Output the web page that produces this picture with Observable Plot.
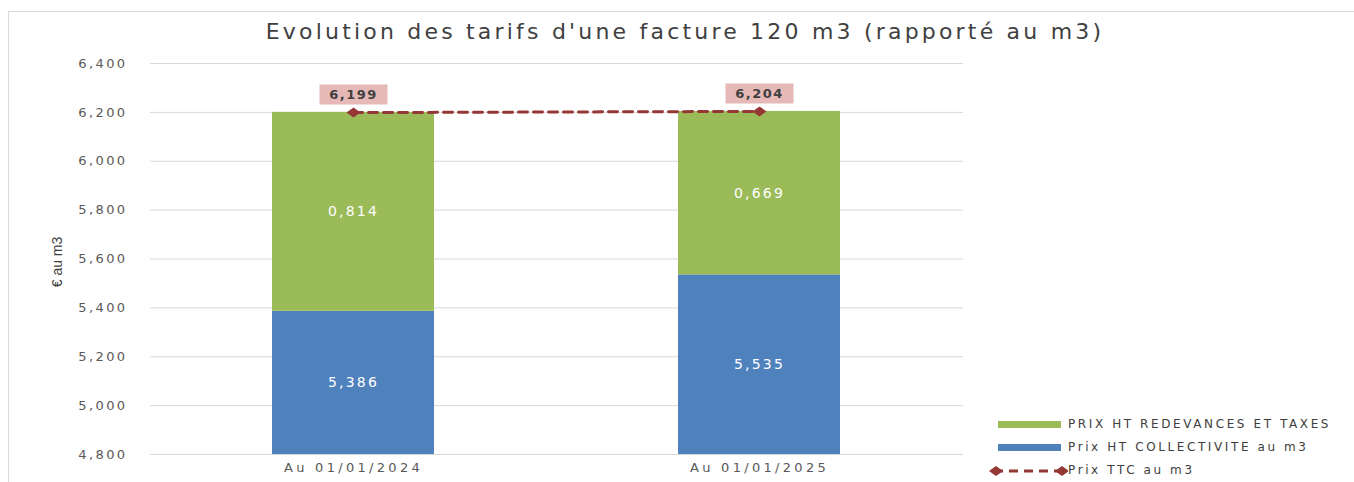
<!DOCTYPE html>
<html><head><meta charset="utf-8">
<script src="https://cdn.jsdelivr.net/npm/d3@7"></script>
<script src="https://cdn.jsdelivr.net/npm/@observablehq/plot@0.6"></script>
<style>
body{margin:0;background:#fff;font-family:"DejaVu Sans",sans-serif;}
#wrap{position:relative;width:1354px;height:482px;overflow:hidden;}
#border{position:absolute;left:8px;top:11px;width:1400px;height:500px;border-left:1px solid #d9d9d9;border-top:1px solid #d9d9d9;}
#title{position:absolute;left:0;width:1370px;top:19px;text-align:center;font-size:22px;color:#404040;letter-spacing:3.2px;white-space:nowrap;}
#ylab{position:absolute;left:57px;top:262px;transform:translate(-50%,-50%) rotate(-90deg);font-size:14px;color:#404040;white-space:nowrap;font-family:"Liberation Sans Narrow","Liberation Sans",sans-serif;}
#legend{position:absolute;left:988px;top:415px;font-size:12px;color:#404040;letter-spacing:2.6px;}
.li{position:relative;height:23px;}
.li svg{position:absolute;left:0;top:0;}
.li span{position:absolute;left:80px;top:2px;white-space:nowrap;}
#chart{position:absolute;left:0;top:0;}
</style></head>
<body><div id="wrap"><div id="chart"></div><div id="border"></div><div id="title"></div><div id="ylab"></div><div id="legend"></div></div>
<script>
const categories = ["Au 01/01/2024", "Au 01/01/2025"];
const collectivite = [5.386, 5.535];
const redevances = [0.814, 0.669];
const ttc = [6.199, 6.204];
const yTicks = [4.8, 5.0, 5.2, 5.4, 5.6, 5.8, 6.0, 6.2, 6.4];
const seriesNames = ["PRIX HT REDEVANCES ET TAXES", "Prix HT COLLECTIVITE au m3", "Prix TTC au m3"];
const titleText = "Evolution des tarifs d'une facture 120 m3 (rapporté au m3)";
const yLabel = "€ au m3";

const colors = {green: "#9BBB59", blue: "#4F81BD", red: "#953735", pink: "#E6B9B8"};
const fmt = v => v.toFixed(3).replace(".", ",");
const yMin = yTicks[0], yMax = yTicks[yTicks.length - 1];

const segs = [];
categories.forEach((c, i) => {
  segs.push({date: c, y1: yMin, y2: collectivite[i], v: collectivite[i], fill: colors.blue});
  segs.push({date: c, y1: collectivite[i], y2: collectivite[i] + redevances[i], v: redevances[i], fill: colors.green});
});
const ttcData = categories.map((c, i) => ({date: c, v: ttc[i]}));

const diamond = {draw(ctx){ctx.moveTo(-7,0);ctx.lineTo(0,-5);ctx.lineTo(7,0);ctx.lineTo(0,5);ctx.closePath();}};
const box = {draw(ctx){ctx.rect(-34,-10,68,20);}};

const chart = Plot.plot({
  width: 1354, height: 482,
  marginLeft: 150, marginRight: 391, marginTop: 63, marginBottom: 28,
  style: {fontFamily: "DejaVu Sans, sans-serif", fontSize: "13px", color: "#595959", background: "transparent"},
  x: {domain: categories, paddingInner: 0.6, paddingOuter: 0.3, label: null, tickSize: 0, tickPadding: 8},
  y: {domain: [yMin, yMax], ticks: yTicks, tickFormat: fmt, label: null, tickSize: 0, tickPadding: 23},
  marks: [
    Plot.gridY(yTicks, {stroke: "#d9d9d9", strokeOpacity: 1}),
    Plot.barY(segs, {x: "date", y1: "y1", y2: "y2", fill: "fill"}),
    Plot.text(segs, {x: "date", y: d => (d.y1 + d.y2) / 2, text: d => fmt(d.v), fill: "white", fontSize: 14, className: "seglab"}),
    Plot.line(ttcData, {x: "date", y: "v", stroke: colors.red, strokeWidth: 3, strokeDasharray: "9,6"}),
    Plot.dot(ttcData, {x: "date", y: "v", symbol: diamond, fill: colors.red, stroke: "none", r: 5}),
    Plot.dot(ttcData, {x: "date", y: "v", symbol: box, fill: colors.pink, stroke: "none", dy: -18, r: 5}),
    Plot.text(ttcData, {x: "date", y: "v", text: d => fmt(d.v), dy: -18, fontWeight: "bold", fill: "#404040", fontSize: 13, className: "ttclab"})
  ]
});
chart.querySelectorAll("[aria-label='y-axis tick label'] text").forEach(t => t.style.letterSpacing = "2.4px");
chart.querySelectorAll("[aria-label='x-axis tick label'] text").forEach(t => t.style.letterSpacing = "3.3px");
chart.querySelectorAll(".seglab text").forEach(t => t.style.letterSpacing = "2.2px");
chart.querySelectorAll(".ttclab text").forEach(t => t.style.letterSpacing = "1.5px");
document.getElementById("chart").appendChild(chart);
document.getElementById("title").textContent = titleText;
document.getElementById("ylab").textContent = yLabel;

const leg = document.getElementById("legend");
const legItems = [
  {name: seriesNames[0], svg: `<svg width="80" height="20"><rect x="10" y="6" width="63" height="7" fill="${colors.green}"/></svg>`},
  {name: seriesNames[1], svg: `<svg width="80" height="20"><rect x="10" y="6" width="63" height="7" fill="${colors.blue}"/></svg>`},
  {name: seriesNames[2], svg: `<svg width="80" height="20"><line x1="6" x2="74" y1="10" y2="10" stroke="${colors.red}" stroke-width="3" stroke-dasharray="9,6"/><path d="M1,10L8,5L15,10L8,15Z" fill="${colors.red}"/><path d="M67,10L74,5L81,10L74,15Z" fill="${colors.red}"/></svg>`}
];
legItems.forEach(it => {
  const d = document.createElement("div"); d.className = "li";
  d.innerHTML = it.svg + `<span>${it.name}</span>`;
  leg.appendChild(d);
});
</script></body></html>
